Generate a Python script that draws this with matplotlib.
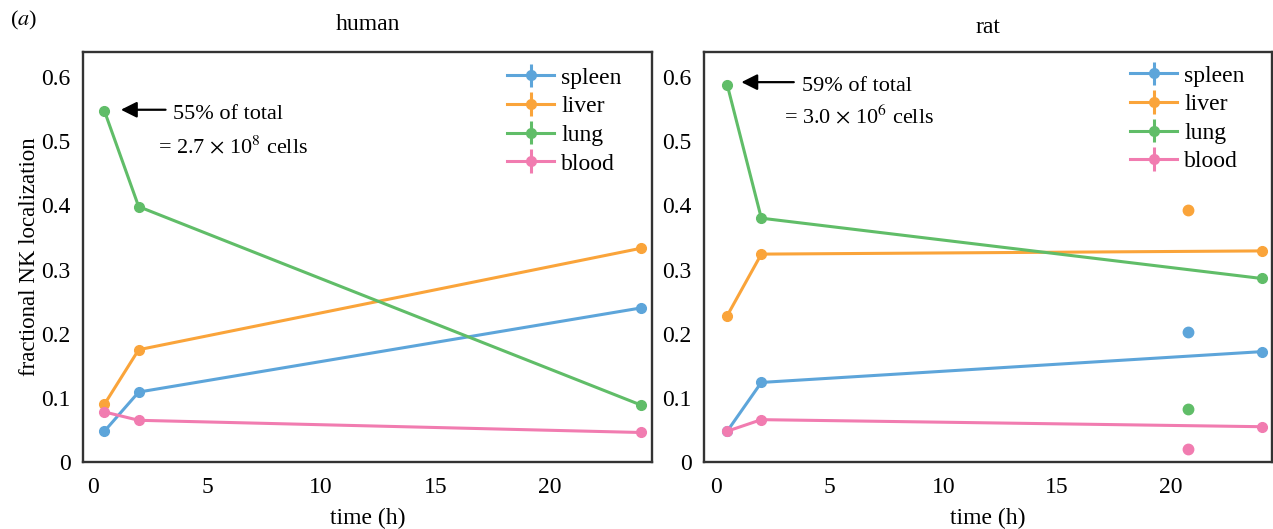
import numpy as np
import matplotlib.pyplot as plt

plt.rcParams['font.family'] = ['Liberation Serif', 'DejaVu Serif']
plt.rcParams['mathtext.fontset'] = 'stix'

# -----------------------------
# Data
# -----------------------------
organs = ["spleen", "liver", "lung", "blood"]
colors = ["#5DA5DA", "#FAA43A", "#60BD68", "#F17CB0"]

t_human = [0.5, 2, 24]
human_spleen = [0.048, 0.109, 0.240]
human_liver = [0.090, 0.175, 0.333]
human_lung = [0.547, 0.398, 0.089]
human_blood = [0.078, 0.065, 0.046]

t_rat = [0.5, 2, 24]
rat_spleen = [0.048, 0.124, 0.172]
rat_liver = [0.228, 0.324, 0.329]
rat_lung = [0.588, 0.380, 0.286]
rat_blood = [0.048, 0.066, 0.055]

# extra unconnected rat points
t_rat_extra = 20.75
rat_extra = [0.203, 0.392, 0.082, 0.020]

human = [human_spleen, human_liver, human_lung, human_blood]
rat = [rat_spleen, rat_liver, rat_lung, rat_blood]

yticks = [0, 0.1, 0.2, 0.3, 0.4, 0.5, 0.6]
ytick_labels = ["0", "0.1", "0.2", "0.3", "0.4", "0.5", "0.6"]
xticks = [0, 5, 10, 15, 20]

# -----------------------------
# Figure
# -----------------------------
W, H = 1273, 529
fig = plt.figure(figsize=(W / 100, H / 100), dpi=100)
ax1 = fig.add_axes([83 / W, 67 / H, 569 / W, 410 / H])
ax2 = fig.add_axes([704 / W, 67 / H, 568 / W, 410 / H])


def style(ax, xlim):
    ax.set_xlim(*xlim)
    ax.set_ylim(0, 0.639)
    ax.set_xticks(xticks)
    ax.set_yticks(yticks)
    ax.set_yticklabels(ytick_labels)
    ax.tick_params(length=0, labelsize=17, pad=9)
    ax.tick_params(axis="x", pad=11)
    for s in ax.spines.values():
        s.set_linewidth(1.7)
        s.set_color("#333333")
    ax.set_xlabel("time (h)", fontsize=17, labelpad=7)


for vals, c, name in zip(human, colors, organs):
    ax1.errorbar(t_human, vals, yerr=np.zeros(len(vals)), color=c, lw=2.2,
                 marker="o", ms=7, label=name)
for vals, c, name in zip(rat, colors, organs):
    ax2.errorbar(t_rat, vals, yerr=np.zeros(len(vals)), color=c, lw=2.2,
                 marker="o", ms=7, label=name)
for v, c in zip(rat_extra, colors):
    ax2.plot(t_rat_extra, v, "o", color=c, ms=7.5)

style(ax1, (-0.44, 24.5))
style(ax2, (-0.52, 24.45))

ax1.set_ylabel("fractional NK localization", fontsize=16.5, labelpad=1)
ax1.set_title("human", fontsize=17, pad=16)
ax2.set_title("rat", fontsize=17, pad=14)

for ax, anchor in [(ax1, (0.745, 0.963)), (ax2, (0.75, 0.968))]:
    ax.legend(loc="upper left", bbox_to_anchor=anchor, frameon=False,
              fontsize=17, handlelength=2.0, handletextpad=0.3,
              labelspacing=0.3, borderpad=0, borderaxespad=0)

# annotations
ax1.annotate("", xy=(1.1, 0.549), xytext=(3.3, 0.549),
             arrowprops=dict(arrowstyle="-|>", color="black", lw=1.6,
                             mutation_scale=24))
ax1.text(3.5, 0.541, "55% of total", fontsize=16, va="center", ha="left")
ax1.text(2.85, 0.491, r"= 2.7 $\times$ 10$^8$ cells", fontsize=16,
         va="center", ha="left")

ax2.annotate("", xy=(1.0, 0.592), xytext=(3.55, 0.592),
             arrowprops=dict(arrowstyle="-|>", color="black", lw=1.6,
                             mutation_scale=24))
ax2.text(3.77, 0.586, "59% of total", fontsize=16, va="center", ha="left")
ax2.text(3.0, 0.538, r"= 3.0 $\times$ 10$^6$ cells", fontsize=16,
         va="center", ha="left")

fig.text(10 / W, 1 - 20 / H, r"($\it{a}$)", fontsize=16, va="center",
         ha="left")

plt.savefig("out.png", dpi=100)
